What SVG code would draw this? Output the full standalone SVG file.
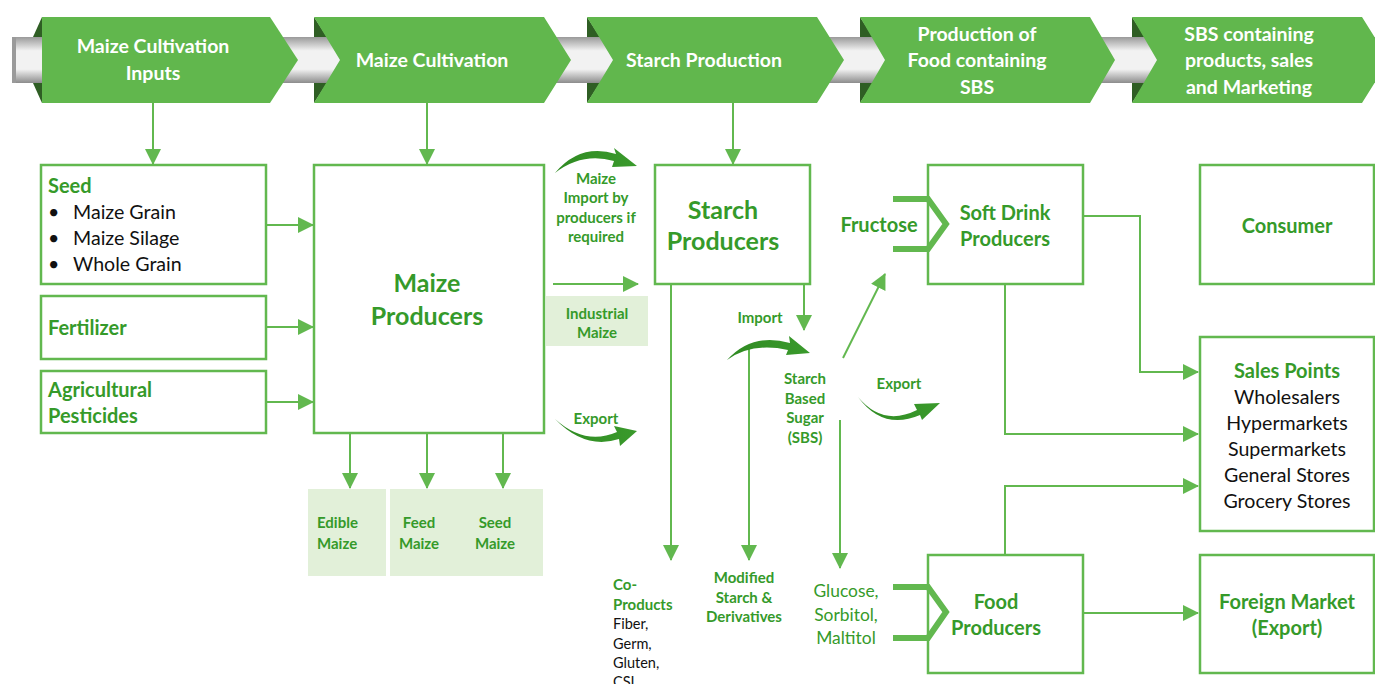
<svg xmlns="http://www.w3.org/2000/svg" width="1375" height="684" viewBox="0 0 1375 684">
<defs>
<linearGradient id="bar" x1="0" y1="0" x2="0" y2="1">
<stop offset="0" stop-color="#9a9a9a"/>
<stop offset="0.3" stop-color="#f2f2f2"/>
<stop offset="0.7" stop-color="#f2f2f2"/>
<stop offset="1" stop-color="#8c8c8c"/>
</linearGradient>
<linearGradient id="curl" x1="0" y1="0" x2="1" y2="0">
<stop offset="0" stop-color="#2f8a22"/>
<stop offset="1" stop-color="#3a9a2c"/>
</linearGradient>
<marker id="ahb" markerWidth="16" markerHeight="16" refX="15" refY="8" orient="auto" markerUnits="userSpaceOnUse" viewBox="0 0 16 16">
<path d="M0,0 L16,8 L0,16 z" fill="#62b84f"/>
</marker>
</defs>
<style>
.box{fill:#fff;stroke:#62b84f;stroke-width:2.5}
.lbox{fill:#e2f0d9;stroke:none}
.chev{fill:#61b74d}
.dark{fill:#2f5e24}
.ct{font-family:Lato,"Open Sans",sans-serif;font-weight:700;font-size:19.5px;fill:#fff;text-anchor:middle}
.gb{font-family:Lato,"Open Sans",sans-serif;font-weight:700;fill:#359a2a}
.gr{font-family:Lato,"Open Sans",sans-serif;font-weight:400;fill:#359a2a}
.bk{font-family:Lato,"Open Sans",sans-serif;font-weight:400;fill:#111}
.mid{text-anchor:middle}
.s13{font-size:15px}
.s14{font-size:14.5px}
.s17{font-size:20px}
.s19{font-size:19.6px}
.s22{font-size:25px}
.ln{fill:none;stroke:#62b84f;stroke-width:2}
.brk{fill:none;stroke:#62b84f;stroke-width:6;stroke-linejoin:miter}
.curl{fill:url(#curl)}
</style>

<g id="banner">
<rect x="12" y="37" width="1363" height="46" fill="url(#bar)"/>
<rect x="12" y="37" width="4" height="46" fill="#9a9a9a"/>
<g id="stage1">
<polygon class="dark" points="42,17 33,37 42,37"/>
<polygon class="dark" points="42,103 33,83 42,83"/>
<polygon class="chev" points="42,17 270,17 298,60 270,103 42,103"/>
<text class="ct" x="153" y="53">Maize Cultivation</text>
<text class="ct" x="153" y="80">Inputs</text>
</g>
<g id="stage2">
<polygon class="dark" points="314,17 314,37 327,37"/>
<polygon class="dark" points="314,103 314,83 327,83"/>
<polygon class="chev" points="314,17 544,17 571,60 544,103 314,103 340,60"/>
<text class="ct" x="432" y="67">Maize Cultivation</text>
</g>
<g id="stage3">
<polygon class="dark" points="587,17 587,37 600,37"/>
<polygon class="dark" points="587,103 587,83 600,83"/>
<polygon class="chev" points="587,17 817,17 844,60 817,103 587,103 613,60"/>
<text class="ct" x="704" y="67">Starch Production</text>
</g>
<g id="stage4">
<polygon class="dark" points="860,17 860,37 873,37"/>
<polygon class="dark" points="860,103 860,83 873,83"/>
<polygon class="chev" points="860,17 1090,17 1115,60 1090,103 860,103 885,60"/>
<text class="ct" x="977" y="41">Production of</text>
<text class="ct" x="977" y="67">Food containing</text>
<text class="ct" x="977" y="94">SBS</text>
</g>
<g id="stage5">
<polygon class="dark" points="1132,17 1132,37 1145,37"/>
<polygon class="dark" points="1132,103 1132,83 1145,83"/>
<polygon class="chev" points="1132,17 1362,17 1389,60 1362,103 1132,103 1157,60"/>
<text class="ct" x="1249" y="41">SBS containing</text>
<text class="ct" x="1249" y="67">products, sales</text>
<text class="ct" x="1249" y="94">and Marketing</text>
</g>
</g>

<g id="seed">
<rect class="box" x="41" y="165" width="225" height="119"/>
<text class="gb s17" x="48" y="193">Seed</text>
<text class="bk s19" x="48" y="219">•</text>
<text class="bk s19" x="73" y="219">Maize Grain</text>
<text class="bk s19" x="48" y="245">•</text>
<text class="bk s19" x="73" y="245">Maize Silage</text>
<text class="bk s19" x="48" y="271">•</text>
<text class="bk s19" x="73" y="271">Whole Grain</text>
</g>
<g id="fertilizer">
<rect class="box" x="41" y="296" width="225" height="63"/>
<text class="gb s17" x="48" y="335">Fertilizer</text>
</g>
<g id="pesticides">
<rect class="box" x="41" y="371" width="225" height="62"/>
<text class="gb s17" x="48" y="397">Agricultural</text>
<text class="gb s17" x="48" y="423">Pesticides</text>
</g>
<g id="maize-producers">
<rect class="box" x="314" y="165" width="230" height="268"/>
<text class="gb s22 mid" x="427" y="292">Maize</text>
<text class="gb s22 mid" x="427" y="325">Producers</text>
</g>
<g id="edible-maize">
<rect class="lbox" x="308" y="489" width="78" height="87"/>
<text class="gb s13" x="317" y="528">Edible</text>
<text class="gb s13" x="317" y="549">Maize</text>
</g>
<g id="feed-seed-maize">
<rect class="lbox" x="390" y="489" width="153" height="87"/>
<text class="gb s13 mid" x="419" y="528">Feed</text>
<text class="gb s13 mid" x="419" y="549">Maize</text>
<text class="gb s13 mid" x="495" y="528">Seed</text>
<text class="gb s13 mid" x="495" y="549">Maize</text>
</g>
<g id="maize-import">
<text class="gb s13 mid" x="596" y="184">Maize</text>
<text class="gb s13 mid" x="596" y="203">Import by</text>
<text class="gb s13 mid" x="596" y="223">producers if</text>
<text class="gb s13 mid" x="596" y="242">required</text>
</g>
<g id="industrial-maize">
<rect class="lbox" x="546" y="296" width="102" height="50"/>
<text class="gb s13 mid" x="597" y="319">Industrial</text>
<text class="gb s13 mid" x="597" y="338">Maize</text>
</g>
<g id="export1">
<text class="gb s13 mid" x="596" y="424">Export</text>
</g>
<g id="starch-producers">
<rect class="box" x="655" y="165" width="155" height="119"/>
<text class="gb s22 mid" x="723" y="219">Starch</text>
<text class="gb s22 mid" x="723" y="250">Producers</text>
</g>
<g id="import2">
<text class="gb s13 mid" x="760" y="323">Import</text>
</g>
<g id="sbs">
<text class="gb s13 mid" x="805" y="384">Starch</text>
<text class="gb s13 mid" x="805" y="404">Based</text>
<text class="gb s13 mid" x="805" y="423">Sugar</text>
<text class="gb s13 mid" x="805" y="443">(SBS)</text>
</g>
<g id="export2">
<text class="gb s13 mid" x="899" y="389">Export</text>
</g>
<g id="co-products">
<text class="gb s13" x="613" y="590">Co-</text>
<text class="gb s13" x="613" y="610">Products</text>
<text class="bk s14" x="613" y="629">Fiber,</text>
<text class="bk s14" x="613" y="649">Germ,</text>
<text class="bk s14" x="613" y="668">Gluten,</text>
<text class="bk s14" x="613" y="687">CSL</text>
</g>
<g id="modified-starch">
<text class="gb s13 mid" x="744" y="583">Modified</text>
<text class="gb s13 mid" x="744" y="603">Starch &amp;</text>
<text class="gb s13 mid" x="744" y="622">Derivatives</text>
</g>
<g id="fructose">
<text class="gb s17 mid" x="879" y="232">Fructose</text>
</g>
<g id="glucose">
<text class="gr mid" x="846" y="597" font-size="17.4">Glucose,</text>
<text class="gr mid" x="846" y="621" font-size="17.4">Sorbitol,</text>
<text class="gr mid" x="846" y="644" font-size="17.4">Maltitol</text>
</g>
<g id="soft-drink-producers">
<rect class="box" x="928" y="165" width="155" height="119"/>
<text class="gb s17 mid" x="1005" y="220">Soft Drink</text>
<text class="gb s17 mid" x="1005" y="246">Producers</text>
</g>
<g id="food-producers">
<rect class="box" x="928" y="555" width="155" height="118"/>
<text class="gb s17 mid" x="996" y="609">Food</text>
<text class="gb s17 mid" x="996" y="635">Producers</text>
</g>
<g id="consumer">
<rect class="box" x="1200" y="165" width="174" height="119"/>
<text class="gb s17 mid" x="1287" y="233">Consumer</text>
</g>
<g id="sales-points">
<rect class="box" x="1200" y="337" width="174" height="194"/>
<text class="gb s17 mid" x="1287" y="378">Sales Points</text>
<text class="bk s19 mid" x="1287" y="404">Wholesalers</text>
<text class="bk s19 mid" x="1287" y="430">Hypermarkets</text>
<text class="bk s19 mid" x="1287" y="456">Supermarkets</text>
<text class="bk s19 mid" x="1287" y="482">General Stores</text>
<text class="bk s19 mid" x="1287" y="508">Grocery Stores</text>
</g>
<g id="foreign-market">
<rect class="box" x="1200" y="555" width="174" height="118"/>
<text class="gb s17 mid" x="1287" y="609">Foreign Market</text>
<text class="gb s17 mid" x="1287" y="635">(Export)</text>
</g>

<g id="connectors">
<line class="ln" x1="153" y1="103" x2="153" y2="164" marker-end="url(#ahb)"/>
<line class="ln" x1="427" y1="103" x2="427" y2="164" marker-end="url(#ahb)"/>
<line class="ln" x1="733" y1="103" x2="733" y2="164" marker-end="url(#ahb)"/>
<line class="ln" x1="266" y1="225" x2="313" y2="225" marker-end="url(#ahb)"/>
<line class="ln" x1="266" y1="327" x2="313" y2="327" marker-end="url(#ahb)"/>
<line class="ln" x1="266" y1="402" x2="313" y2="402" marker-end="url(#ahb)"/>
<line class="ln" x1="350" y1="434" x2="350" y2="488" marker-end="url(#ahb)"/>
<line class="ln" x1="427" y1="434" x2="427" y2="488" marker-end="url(#ahb)"/>
<line class="ln" x1="503" y1="434" x2="503" y2="488" marker-end="url(#ahb)"/>
<line class="ln" x1="553" y1="284" x2="638" y2="284" marker-end="url(#ahb)"/>
<line class="ln" x1="671" y1="285" x2="671" y2="560" marker-end="url(#ahb)"/>
<line class="ln" x1="804" y1="285" x2="804" y2="330" marker-end="url(#ahb)"/>
<line class="ln" x1="749" y1="348" x2="749" y2="560" marker-end="url(#ahb)"/>
<line class="ln" x1="843" y1="358" x2="885" y2="274" marker-end="url(#ahb)"/>
<line class="ln" x1="840" y1="420" x2="840" y2="568" marker-end="url(#ahb)"/>
<polyline class="ln" points="1084,216 1140,216 1140,372 1198,372" marker-end="url(#ahb)"/>
<polyline class="ln" points="1005,285 1005,434 1198,434" marker-end="url(#ahb)"/>
<polyline class="ln" points="1005,554 1005,486 1198,486" marker-end="url(#ahb)"/>
<line class="ln" x1="1084" y1="613" x2="1198" y2="613" marker-end="url(#ahb)"/>
<path class="curl" d="M555,173 Q580,143 616,154 L614,148 L637,166 L612,167 L614,161 Q582,152 555,173 z"/>
<path class="curl" d="M555,419 Q585,446 617,432 L614,426 L637,431 L620,446 L619,439 Q585,450 555,419 z"/>
<path class="curl" d="M727,360 Q752,332 790,343 L789,336 L810,353 L786,355 L788,350 Q752,342 727,360 z"/>
<path class="curl" d="M858,397 Q883,427 917,410 L914,404 L940,403 L922,420 L920,415 Q883,431 858,397 z"/>
<polyline class="brk" points="893,199 928,199 946,224 928,249 893,249"/>
<polyline class="brk" points="893,587 928,587 946,612 928,638 893,638"/>
</g>
</svg>
